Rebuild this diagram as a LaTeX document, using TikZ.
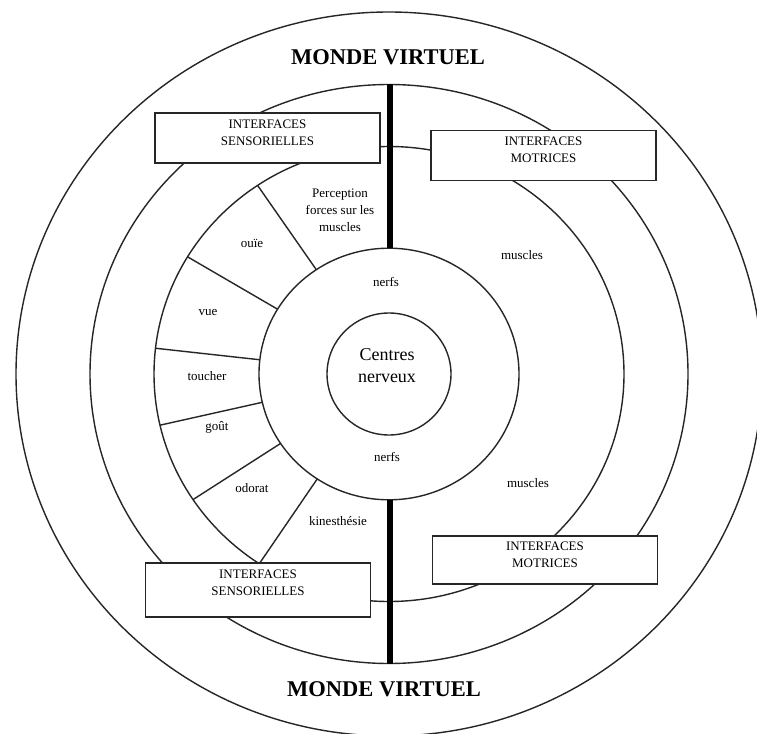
\documentclass[tikz,border=0pt]{standalone}
\usepackage{fontspec}
\setmainfont{Liberation Serif}
\usetikzlibrary{calc}
\begin{document}
\begin{tikzpicture}[x=1pt,y=-1pt,
  ring/.style={line width=1.4pt, draw=black!85},
  axis/.style={line width=6pt, draw=black},
  ifbox/.style={draw=black!85, line width=1.7pt, fill=white, minimum width=225pt, minimum height=50pt, inner sep=0pt},
  iftext/.style={anchor=north, align=center, inner sep=0pt, font=\fontsize{13}{17}\selectfont},
  lbl/.style={align=center, inner sep=0pt, font=\fontsize{13}{17}\selectfont},
  title/.style={inner sep=0pt, font=\bfseries\fontsize{22.5}{26}\selectfont}]
\useasboundingbox (0,0) rectangle (757,733);
\fill[white] (0,0) rectangle (757,733);
\coordinate (C) at (389,374);

% concentric rings
\draw[ring] (C) ellipse [x radius=373pt, y radius=362pt];
\draw[ring] (C) ellipse [x radius=299pt, y radius=289.5pt];
\draw[ring] (C) ellipse [x radius=235pt, y radius=227.5pt];
\draw[ring] (C) ellipse [x radius=130pt, y radius=125.8pt];
\draw[ring] (C) ellipse [x radius=62pt, y radius=61pt];

% sensory sectors on the left
\foreach \a in {124,149,173.5,193,213.5,236.5}{
  \draw[ring] ($(C)+(\a:130pt and 125.8pt)$) -- ($(C)+(\a:235pt and 227.5pt)$);
}

% vertical axis split by the nerve ring
\coordinate (ttop) at ($(C)+(1,-289.5)$);
\coordinate (tbot) at ($(C)+(1,-125.8)$);
\coordinate (btop) at ($(C)+(1,125.8)$);
\coordinate (bbot) at ($(C)+(1,289.5)$);
\draw[axis] (ttop) -- (tbot);
\draw[axis] (btop) -- (bbot);

% interface boxes
\node[ifbox] (s1) at (267.5,138) {};
\node[iftext] (s1t) at ($(s1.north)+(0,7.5)$) {INTERFACES\\SENSORIELLES};
\node[ifbox] (m1) at (543.5,155.5) {};
\node[iftext] (m1t) at ($(m1.north)+(0,7.5)$) {INTERFACES\\MOTRICES};
\node[ifbox, minimum height=48pt] (m2) at (545,560) {};
\node[iftext] (m2t) at ($(m2.north)+(0,7)$) {INTERFACES\\MOTRICES};
\node[ifbox, minimum height=54pt] (s2) at (258,590) {};
\node[iftext] (s2t) at ($(s2.north)+(0,7.5)$) {INTERFACES\\SENSORIELLES};

% labels
\node[title] (mv1) at (388,57) {MONDE VIRTUEL};
\node[title] (mv2) at (384,689) {MONDE VIRTUEL};
\node[lbl, font=\fontsize{18}{22}\selectfont] (cn) at (387,366) {Centres\\nerveux};
\node[lbl] (n1) at (386,282) {nerfs};
\node[lbl] (n2) at (387,457) {nerfs};
\node[lbl] (mu1) at (522,255) {muscles};
\node[lbl] (mu2) at (528,483) {muscles};
\node[lbl] (pf) at (340,210) {Perception\\forces sur les\\muscles};
\node[lbl] (ou) at (252,243) {ouïe};
\node[lbl] (vu) at (208,312) {vue};
\node[lbl] (to) at (207,376) {toucher};
\node[lbl] (go) at (217,427) {goût};
\node[lbl] (od) at (252,488) {odorat};
\node[lbl] (ki) at (338,521) {kinesthésie};
\end{tikzpicture}
\end{document}
